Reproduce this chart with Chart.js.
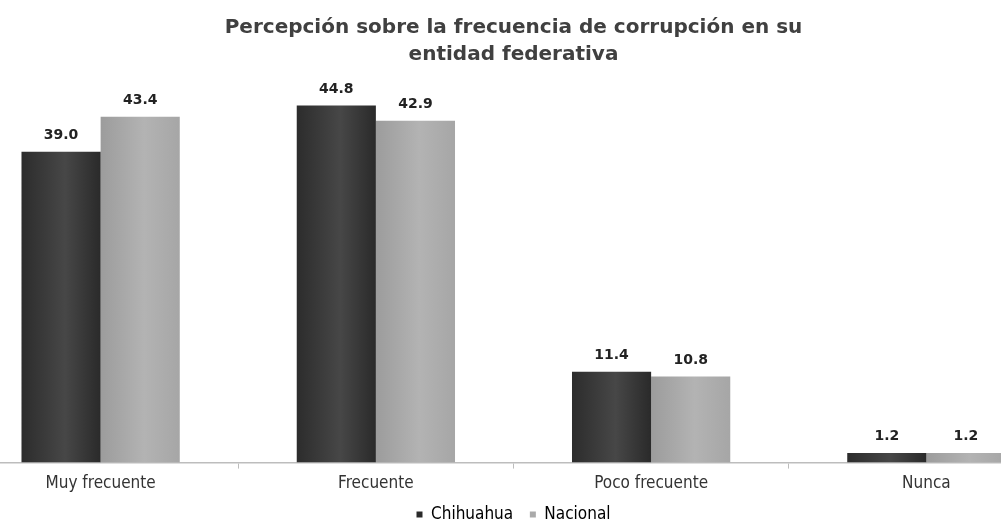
<!DOCTYPE html>
<html><head><meta charset="utf-8">
<script src="https://cdn.jsdelivr.net/npm/chart.js@4/dist/chart.umd.min.js"></script>
<style>
html,body{margin:0;padding:0;background:#fff;overflow:hidden;width:1001px;height:525px;}
#wrap{position:absolute;left:-37px;top:0;width:1101px;height:525px;}
</style></head><body>
<div id="wrap"><canvas id="c" width="1101" height="525"></canvas></div>
<script>
const categories = ["Muy frecuente", "Frecuente", "Poco frecuente", "Nunca"];
const chihuahua = [39.0, 44.8, 11.4, 1.2];
const nacional = [43.4, 42.9, 10.8, 1.2];
const seriesNames = ["Chihuahua", "Nacional"];
const titleLines = ["Percepción sobre la frecuencia de corrupción en su", "entidad federativa"];

const gradStops = [
  ['#2c2c2c', '#474747', '#2a2a2a'],
  ['#9c9c9c', '#b3b3b3', '#a6a6a6']
];

const gradientPlugin = {
  id: 'barGradient',
  beforeDatasetsDraw(chart) {
    const ctx = chart.ctx;
    chart.data.datasets.forEach((ds, di) => {
      const meta = chart.getDatasetMeta(di);
      meta.data.forEach(el => {
        const x0 = el.x - el.width / 2, x1 = el.x + el.width / 2;
        const g = ctx.createLinearGradient(x0, 0, x1, 0);
        const s = gradStops[di];
        g.addColorStop(0, s[0]);
        g.addColorStop(0.55, s[1]);
        g.addColorStop(1, s[2]);
        el.options = Object.assign({}, el.options, { backgroundColor: g });
      });
    });
  }
};

const labelPlugin = {
  id: 'valueLabels',
  afterDatasetsDraw(chart) {
    const ctx = chart.ctx;
    ctx.save();
    ctx.font = 'bold 14px "DejaVu Sans", sans-serif';
    ctx.fillStyle = '#222';
    ctx.textAlign = 'center';
    ctx.textBaseline = 'alphabetic';
    chart.data.datasets.forEach((ds, di) => {
      const meta = chart.getDatasetMeta(di);
      meta.data.forEach((el, i) => {
        ctx.fillText(ds.data[i].toFixed(1), el.x, el.y - 13);
      });
    });
    ctx.restore();
  }
};

new Chart(document.getElementById('c'), {
  type: 'bar',
  data: {
    labels: categories,
    datasets: [
      { label: seriesNames[0], data: chihuahua, backgroundColor: () => '#333', barPercentage: 1.0, categoryPercentage: 0.575 },
      { label: seriesNames[1], data: nacional, backgroundColor: () => '#aaa', barPercentage: 1.0, categoryPercentage: 0.575 }
    ]
  },
  options: {
    responsive: false,
    animation: false,
    layout: { padding: { left: 0, right: 0, top: 0, bottom: -8 } },
    plugins: {
      title: {
        display: true,
        text: titleLines,
        color: '#404040',
        font: { family: '"DejaVu Sans", sans-serif', size: 20, weight: 'bold', lineHeight: 1.35 },
        padding: { top: 14, bottom: 12 }
      },
      legend: {
        position: 'bottom',
        labels: {
          color: '#333',
          font: { family: '"DejaVu Sans Condensed", "Liberation Sans Narrow", sans-serif', size: 17 },
          boxWidth: 6, boxHeight: 6, padding: 7,
          generateLabels(chart) {
            return chart.data.datasets.map((ds, i) => ({
              text: i === 0 ? ds.label + '  ' : ds.label,
              fillStyle: i === 0 ? '#2a2a2a' : '#aaaaaa', strokeStyle: 'transparent', lineWidth: 0, datasetIndex: i
            }));
          }
        }
      },
      tooltip: { enabled: false }
    },
    scales: {
      x: {
        grid: { display: true, drawOnChartArea: false, drawTicks: true, tickLength: 6, color: '#bdbdbd', offset: true },
        border: { display: true, color: '#bdbdbd', width: 1.5 },
        ticks: { color: '#333', padding: 5, font: { family: '"DejaVu Sans Condensed", "Liberation Sans Narrow", sans-serif', size: 17 } }
      },
      y: {
        display: false,
        min: 0, max: 48
      }
    }
  },
  plugins: [gradientPlugin, labelPlugin]
});
</script></body></html>
